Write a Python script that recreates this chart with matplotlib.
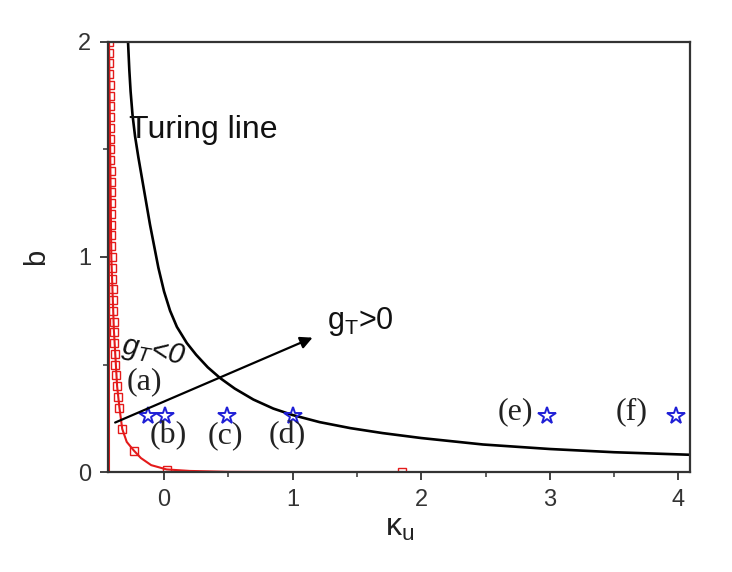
import matplotlib
matplotlib.use('Agg')
from matplotlib import pyplot as plt

## DATOS ##
# Turing line (black curve)
turing_k = [-0.28, -0.27, -0.26, -0.245, -0.225, -0.20, -0.174, -0.109, -0.044, 0.0,
            0.047, 0.10, 0.177, 0.25, 0.34, 0.436, 0.55, 0.695, 0.85, 1.0,
            1.21, 1.45, 1.70, 2.0, 2.48, 3.0, 3.5, 4.1]
turing_b = [2.0, 1.87, 1.77, 1.66, 1.56, 1.465, 1.375, 1.15, 0.95, 0.84,
            0.75, 0.675, 0.60, 0.545, 0.487, 0.437, 0.388, 0.337, 0.295, 0.265,
            0.232, 0.204, 0.181, 0.158, 0.128, 0.107, 0.092, 0.080]

# red curve: square markers
red_k = [-0.428, -0.427, -0.426, -0.425, -0.424, -0.423, -0.422, -0.421, -0.420, -0.419,
         -0.418, -0.417, -0.416, -0.415, -0.414, -0.413, -0.412, -0.411, -0.410, -0.409,
         -0.408, -0.405, -0.402, -0.400, -0.398, -0.395, -0.392, -0.389, -0.386, -0.382,
         -0.378, -0.372, -0.365, -0.357, -0.347, -0.325, -0.235, 0.02, 1.85]
red_b = [2.0, 1.95, 1.9, 1.85, 1.8, 1.75, 1.7, 1.65, 1.6, 1.55,
         1.5, 1.45, 1.4, 1.35, 1.3, 1.25, 1.2, 1.15, 1.1, 1.05,
         1.0, 0.95, 0.9, 0.85, 0.8, 0.75, 0.7, 0.65, 0.6, 0.55,
         0.5, 0.45, 0.4, 0.35, 0.3, 0.2, 0.1, 0.01, 0.0]
# red curve: line through the markers and down along b = 0
linea_k = [-0.428, -0.41, -0.39, -0.365, -0.347, -0.325, -0.29, -0.235, -0.18, -0.10,
           0.02, 0.2, 0.5, 1.0, 1.85]
linea_b = [2.0, 1.0, 0.66, 0.4, 0.3, 0.2, 0.14, 0.1, 0.065, 0.032,
           0.012, 0.005, 0.001, 0.0, 0.0]

# red vertical line at the left edge
edge_k = [-0.43, -0.43]
edge_b = [0.0, 2.0]

# parameter points (stars) and their labels
star_k = [-0.125, 0.01, 0.49, 1.0, 2.98, 3.98]
star_b = [0.26, 0.26, 0.26, 0.26, 0.26, 0.26]
etiquetas = ['(a)', '(b)', '(c)', '(d)', '(e)', '(f)']
etiq_k = [-0.15, 0.03, 0.475, 0.96, 2.73, 3.64]
etiq_b = [0.42, 0.17, 0.17, 0.17, 0.28, 0.28]

flecha_ini = (-0.40, 0.225)
flecha_fin = (1.175, 0.63)

## GRAFICA ##
plt.rcParams['font.family'] = ['Liberation Sans', 'DejaVu Sans']
rojo = '#e41a1a'

fig = plt.figure(figsize=(7.32, 5.72), dpi=100)
ax = fig.add_axes([0.1475, 0.1748, 0.7951, 0.7518])

ax.plot(edge_k, edge_b, color=rojo, lw=1.5)
ax.plot(linea_k, linea_b, color=rojo, lw=1.5)
ax.plot(red_k, red_b, ls='none', marker='s', ms=5.5, mfc='none', mec=rojo, mew=1.0)

ax.plot(turing_k, turing_b, color='black', lw=1.9)

ax.plot(star_k, star_b, ls='none', marker='*', ms=13, mfc='none', mec='#1f1fd6', mew=1.4)

for txt, k, b in zip(etiquetas, etiq_k, etiq_b):
    ax.text(k, b, txt, ha='center', va='center', fontsize=23,
            family=['Liberation Serif', 'DejaVu Serif'], color='#222222')

ax.annotate('', xy=flecha_fin, xytext=flecha_ini,
            arrowprops=dict(arrowstyle='-|>', color='black', lw=1.6, mutation_scale=18))

ax.text(-0.27, 1.59, 'Turing line', fontsize=23, ha='left', va='center', color='#111111')
ax.text(1.27, 0.70, r'g$_\mathregular{T}$>0', fontsize=22, ha='left', va='center', color='#111111')
ax.text(-0.35, 0.56, r'g$_\mathregular{T}$<0', fontsize=21, ha='left', va='center',
        style='italic', rotation=-10, color='#111111')

ax.set_xlim(-0.436, 4.09)
ax.set_ylim(0, 2)
ax.set_xticks([0, 1, 2, 3, 4])
ax.set_xticks([0.5, 1.5, 2.5, 3.5], minor=True)
ax.set_yticks([0, 1, 2])
ax.set_yticks([0.5, 1.5], minor=True)
ax.tick_params(which='major', direction='out', length=6, width=1.3, labelsize=17,
               colors='#333333', pad=6)
ax.tick_params(which='minor', direction='out', length=3.5, width=1.1, colors='#333333')
for s in ax.spines.values():
    s.set_linewidth(1.6)
    s.set_color('#333333')

ax.set_ylabel('b', fontsize=21, color='#222222')
ax.yaxis.set_label_coords(-0.10, 0.5)
ax.set_xlabel(r'κ$_\mathregular{u}$', fontsize=23, color='#222222')
ax.xaxis.set_label_coords(0.502, -0.095)

fig.savefig('out.png', dpi=100)
